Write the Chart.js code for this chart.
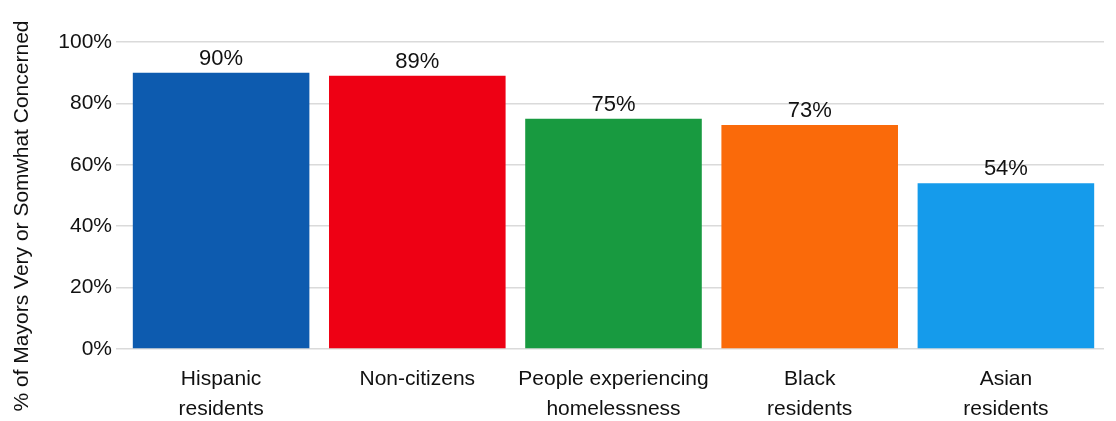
<!DOCTYPE html>
<html>
<head>
<meta charset="utf-8">
<script src="https://cdn.jsdelivr.net/npm/chart.js@4/dist/chart.umd.min.js"></script>
<style>
  html, body { margin: 0; padding: 0; background: #fff; }
  #wrap { width: 1116px; height: 421px; }
</style>
</head>
<body>
<div id="wrap"><canvas id="chart" width="1116" height="421"></canvas></div>
<script>
const categories = [['Hispanic', 'residents'], 'Non-citizens', ['People experiencing', 'homelessness'], ['Black', 'residents'], ['Asian', 'residents']];
const values = [90, 89, 75, 73, 54];
const barColors = ['#0d5baf', '#ee0014', '#189a40', '#fa6a0a', '#159beb'];
const yTicks = [0, 20, 40, 60, 80, 100];
const yTitle = '% of Mayors Very or Somwhat Concerned';

const FONT = '"Liberation Sans", Arial, sans-serif';

// value above each bar
const valueLabels = {
    id: 'valueLabels',
    afterDatasetsDraw(chart) {
        const ctx = chart.ctx;
        const meta = chart.getDatasetMeta(0);
        ctx.save();
        ctx.font = '22px ' + FONT;
        ctx.fillStyle = '#111';
        ctx.textAlign = 'center';
        ctx.textBaseline = 'bottom';
        meta.data.forEach((bar, i) => {
            ctx.fillText(values[i] + '%', bar.x, bar.y - 3);
        });
        ctx.restore();
    }
};

// rotated axis title, centred on the whole canvas height like the original
const sideTitle = {
    id: 'sideTitle',
    afterDraw(chart) {
        const ctx = chart.ctx;
        ctx.save();
        ctx.translate(22, 216);
        ctx.rotate(-Math.PI / 2);
        ctx.font = '21px ' + FONT;
        ctx.fillStyle = '#111';
        ctx.textAlign = 'center';
        ctx.textBaseline = 'middle';
        ctx.fillText(yTitle, 0, 0);
        ctx.restore();
    }
};

new Chart(document.getElementById('chart').getContext('2d'), {
    type: 'bar',
    data: {
        labels: categories,
        datasets: [{
            data: values,
            backgroundColor: barColors,
            borderWidth: 0,
            categoryPercentage: 0.9,
            barPercentage: 1.0
        }]
    },
    options: {
        responsive: false,
        devicePixelRatio: 1,
        animation: false,
        layout: { padding: { top: 42, right: 12, bottom: 0, left: 4 } },
        plugins: {
            legend: { display: false },
            tooltip: { enabled: false }
        },
        scales: {
            x: {
                afterFit: axis => { axis.height = 72; },
                grid: { display: false },
                border: { display: false },
                ticks: { color: '#111', font: { family: FONT, size: 21, lineHeight: 1.43 }, padding: 7, maxRotation: 0 }
            },
            y: {
                min: 0,
                max: 100,
                afterBuildTicks: axis => { axis.ticks = yTicks.map(v => ({ value: v })); },
                afterFit: axis => { axis.width = 119; },
                grid: { color: '#dadada', lineWidth: 1.5, tickLength: 7 },
                border: { display: false },
                ticks: { color: '#111', font: { family: FONT, size: 21 }, padding: 4, callback: v => v + '%' }
            }
        }
    },
    plugins: [valueLabels, sideTitle]
});
</script>
</body>
</html>
